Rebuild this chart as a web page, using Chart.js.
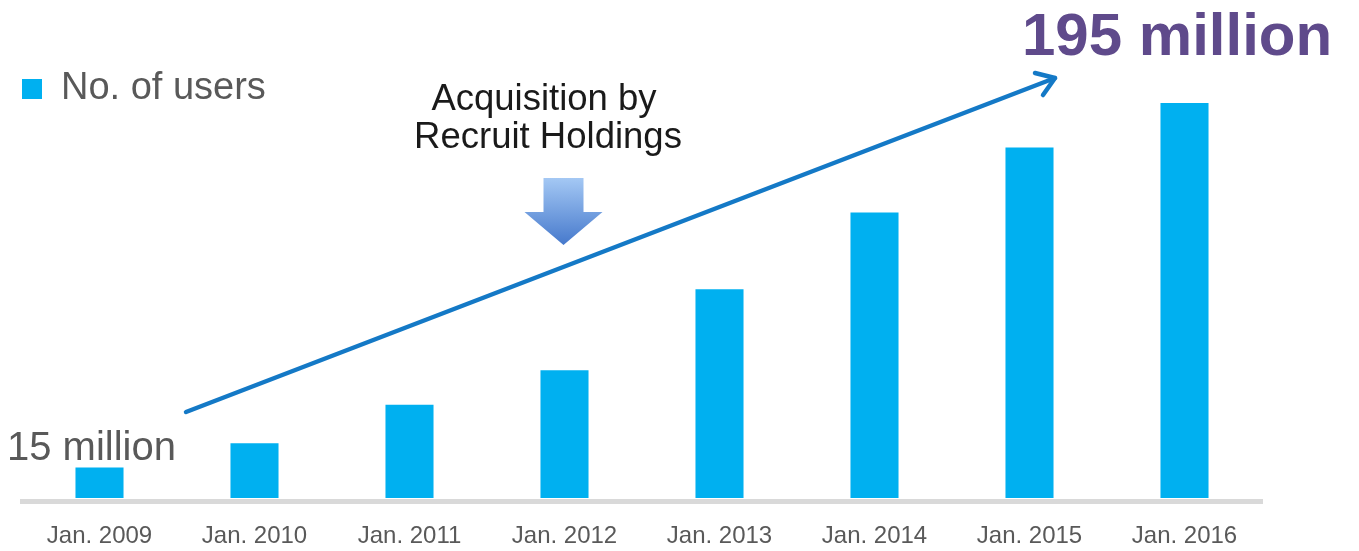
<!DOCTYPE html>
<html>
<head>
<meta charset="utf-8">
<title>No. of users</title>
<script src="https://cdn.jsdelivr.net/npm/chart.js@4.4.0/dist/chart.umd.min.js"></script>
<style>
  html, body { margin: 0; padding: 0; background: #ffffff; }
  #wrap { width: 1359px; height: 551px; position: relative; }
</style>
</head>
<body>
<div id="wrap"><canvas id="usersChart"></canvas></div>
<script>
// dados (milhões de usuários)
const categories = ['Jan. 2009', 'Jan. 2010', 'Jan. 2011', 'Jan. 2012', 'Jan. 2013', 'Jan. 2014', 'Jan. 2015', 'Jan. 2016'];
const users = [15, 27, 46, 63, 103, 141, 173, 195];
const seriesLabel = 'No. of users';
const startLabel = '15 million';
const endLabel = '195 million';
const eventLabel = ['Acquisition by', 'Recruit Holdings'];
const eventIndex = 3; // Jan. 2012

const FONT = '"Liberation Sans", Arial, sans-serif';

// legenda dentro da área do gráfico, um pouco abaixo do topo
const legendOffset = {
    id: 'legendOffset',
    afterLayout(chart) {
        const legend = chart.legend;
        if (!legend) return;
        legend.top = 70;
        legend.bottom = legend.top + legend.height;
    }
};

// anotações: seta de tendência, seta de aquisição e textos
const annotations = {
    id: 'annotations',
    afterDatasetsDraw(chart) {
        const ctx = chart.ctx;
        const x = chart.scales.x;
        ctx.save();

        // seta de tendência
        const x0 = 186, y0 = 412, x1 = 1055, y1 = 78;
        ctx.strokeStyle = '#1479c6';
        ctx.lineWidth = 4.5;
        ctx.lineCap = 'round';
        ctx.lineJoin = 'round';
        ctx.beginPath();
        ctx.moveTo(x0, y0);
        ctx.lineTo(x1, y1);
        ctx.stroke();
        ctx.beginPath();
        ctx.moveTo(1035, 73);
        ctx.lineTo(x1, y1);
        ctx.lineTo(1043, 95);
        ctx.stroke();

        // seta de aquisição com gradiente
        const cx = x.getPixelForValue(eventIndex) - 1;
        const grad = ctx.createLinearGradient(0, 178, 0, 245);
        grad.addColorStop(0, '#a4c8f4');
        grad.addColorStop(1, '#4679cc');
        ctx.fillStyle = grad;
        ctx.beginPath();
        ctx.moveTo(cx - 20, 178);
        ctx.lineTo(cx + 20, 178);
        ctx.lineTo(cx + 20, 212);
        ctx.lineTo(cx + 39, 212);
        ctx.lineTo(cx, 245);
        ctx.lineTo(cx - 39, 212);
        ctx.lineTo(cx - 20, 212);
        ctx.closePath();
        ctx.fill();

        // textos
        ctx.textAlign = 'center';
        ctx.textBaseline = 'alphabetic';
        ctx.fillStyle = '#1a1a1a';
        ctx.font = '36.5px ' + FONT;
        ctx.fillText(eventLabel[0], 544, 110);
        ctx.fillText(eventLabel[1], 548, 148);

        ctx.textAlign = 'left';
        ctx.fillStyle = '#595959';
        ctx.font = '40px ' + FONT;
        ctx.fillText(startLabel, 7, 460);

        ctx.fillStyle = '#5f4a8b';
        ctx.font = 'bold 60px ' + FONT;
        ctx.fillText(endLabel, 1022, 55);

        ctx.restore();
    }
};

const chart = new Chart(document.getElementById('usersChart'), {
    type: 'bar',
    data: {
        labels: categories,
        datasets: [{
            label: seriesLabel,
            data: users,
            backgroundColor: '#00b0f0',
            borderWidth: 0,
            barPercentage: 0.62,
            categoryPercentage: 0.5
        }]
    },
    options: {
        responsive: true,
        maintainAspectRatio: false,
        animation: false,
        layout: { padding: { left: 22, right: 97, top: 70, bottom: 0 } },
        plugins: {
            legend: {
                position: 'chartArea',
                align: 'start',
                labels: {
                    boxWidth: 20,
                    boxHeight: 20,
                    padding: 0,
                    color: '#595959',
                    font: { family: FONT, size: 38 }
                }
            },
            tooltip: { enabled: false }
        },
        scales: {
            x: {
                grid: { display: false, drawTicks: false },
                border: { color: '#d9d9d9', width: 5 },
                ticks: {
                    color: '#595959',
                    padding: 21,
                    font: { family: FONT, size: 24 }
                },
                afterFit(scale) {
                    scale.height = 50;
                }
            },
            y: {
                display: false,
                min: -1.5,
                max: 211.3
            }
        }
    },
    plugins: [legendOffset, annotations]
});
</script>
</body>
</html>
